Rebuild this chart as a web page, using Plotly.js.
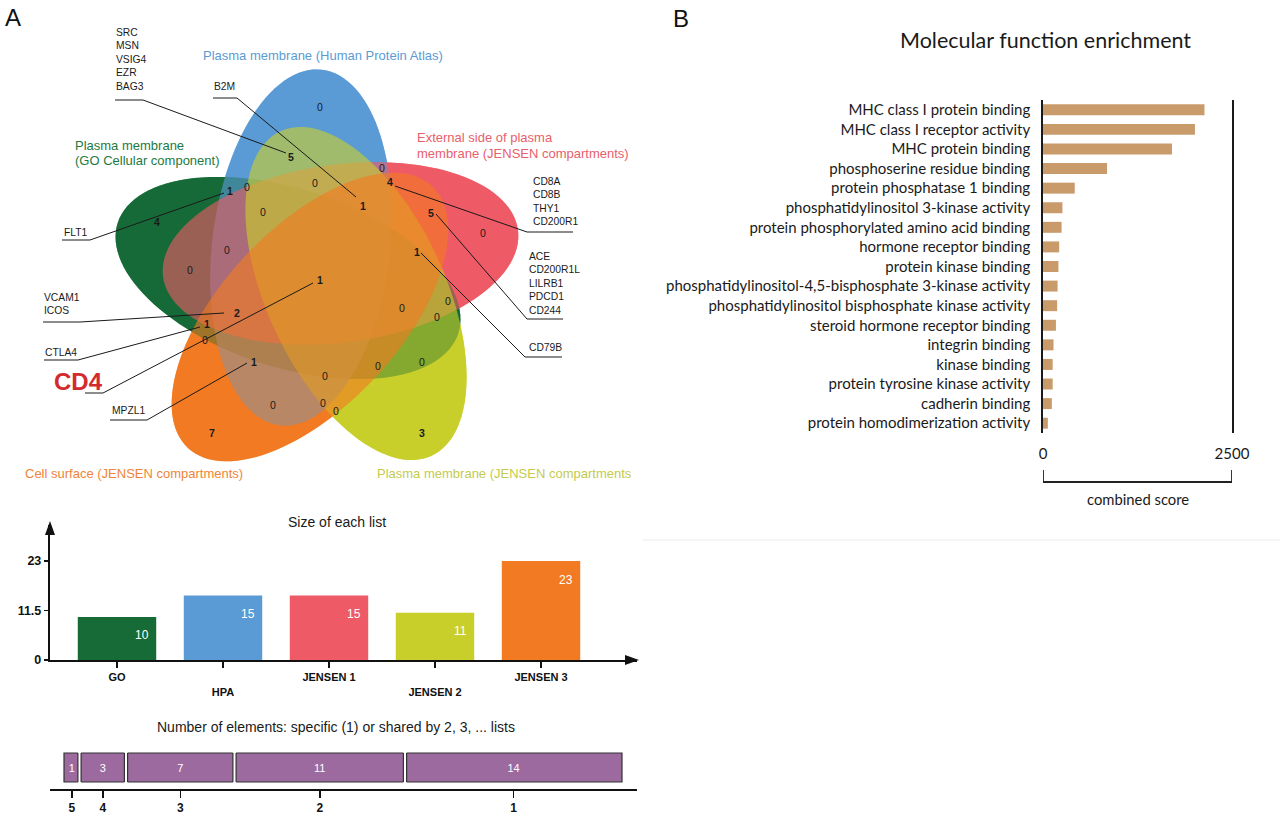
<!DOCTYPE html>
<html><head><meta charset="utf-8">
<script src="https://cdn.plot.ly/plotly-3.0.1.min.js"></script>
<style>html,body{margin:0;padding:0;background:#fff}#chart{width:1280px;height:818px}</style>
</head><body><div id="chart"></div>
<script>
// ---------------- DATA ----------------
const listNames = ['GO', 'HPA', 'JENSEN 1', 'JENSEN 2', 'JENSEN 3'];
const listSizes = [10, 15, 15, 11, 23];
const sizeTicks = [0, 11.5, 23];

const sharedDegree = ['5', '4', '3', '2', '1'];
const sharedCounts = [1, 3, 7, 11, 14];

const mfTerms = [
  'MHC class I protein binding',
  'MHC class I receptor activity',
  'MHC protein binding',
  'phosphoserine residue binding',
  'protein phosphatase 1 binding',
  'phosphatidylinositol 3-kinase activity',
  'protein phosphorylated amino acid binding',
  'hormone receptor binding',
  'protein kinase binding',
  'phosphatidylinositol-4,5-bisphosphate 3-kinase activity',
  'phosphatidylinositol bisphosphate kinase activity',
  'steroid hormone receptor binding',
  'integrin binding',
  'kinase binding',
  'protein tyrosine kinase activity',
  'cadherin binding',
  'protein homodimerization activity'
];
const mfScores = [2136, 2010, 1706, 847, 420, 257, 246, 214, 204, 193, 187, 171, 139, 128, 128, 117, 64];
const mfTicks = [0, 2500];

const vennSetNames = ['Plasma membrane (GO Cellular component)', 'Plasma membrane (Human Protein Atlas)',
  'External side of plasma membrane (JENSEN compartments)', 'Plasma membrane (JENSEN compartments',
  'Cell surface (JENSEN compartments)'];
const vennRegionCounts = [0,5,0,4,1,0,0,1,0,5,4,0,0,1,0,1,2,0,0,0,1,0,1,0,0,0,0,0,0,7,3];
const geneGroups = ['SRC<br>MSN<br>VSIG4<br>EZR<br>BAG3', 'B2M', 'FLT1', 'VCAM1<br>ICOS', 'CTLA4', 'MPZL1',
  'CD8A<br>CD8B<br>THY1<br>CD200R1', 'ACE<br>CD200R1L<br>LILRB1<br>PDCD1<br>CD244', 'CD79B'];
const highlightGene = 'CD4';

// ---------------- LAYOUT / STYLE ----------------
const W = 1280, H = 818;
const PX = x => x / W, PY = y => 1 - y / H;
const AR = 'Liberation Sans, Arial, sans-serif';
const MY = 'Lato, Open Sans, sans-serif';
const listColors = ['#176b37', '#5a9bd5', '#ee5a66', '#c9cf2a', '#f27a22'];
const setTextColors = ['#1d7a40', '#5b9bd5', '#e8606b', '#c4cb4c', '#ef8438'];

// ellipse geometry (pixel space): cx, cy, rotation
const ellA = 179, ellB = 89;
const ellGeom = [[288, 278, 18], [301, 247.5, 96.7], [340.5, 253.4, -7.5], [356, 293.5, 65], [310, 317, 133]];
function ellipsePath(cx, cy, a, b, deg) {
  const t = deg * Math.PI / 180, c = Math.cos(t), s = Math.sin(t);
  let p = '';
  for (let k = 0; k < 120; k++) {
    const ph = 2 * Math.PI * k / 120;
    const u = a * Math.cos(ph), v = b * Math.sin(ph);
    const x = cx + u * c - v * s, y = cy + u * s + v * c;
    p += (k === 0 ? 'M' : 'L') + x.toFixed(2) + ',' + y.toFixed(2);
  }
  return p + 'Z';
}
const vennRegionPos = [[320,107],[291,157],[382,168],[390,182],[230,191],[247,187],[315,183],[363,206],[263,212],[431,213],[157,222],[483,233],[227,250],[417,252],[190,270],[320,280],[237,313],[448,301],[402,308],[437,317],[207,324],[205,340],[254,362],[422,362],[325,376],[378,366],[273,405],[323,403],[336,411],[212,433],[422,433]];
// gene label layout: text x, first-line y, polyline points
const geneLayout = [
  {x:114, y:33, pts:[[115,100],[143,100],[286,153]]},
  {x:212, y:87, pts:[[213,98],[237,98],[356,197]]},
  {x:62, y:233, pts:[[62,240],[90,240],[224,193]]},
  {x:42, y:298, pts:[[43,322],[80,322],[224,313]]},
  {x:43, y:353, pts:[[44,360],[78,360],[200,327]]},
  {x:110, y:411, pts:[[110,420],[147,420],[247,363]]},
  {x:531, y:182, pts:[[573,232],[527,232],[395,186]]},
  {x:527, y:257, pts:[[563,319],[527,319],[436,214]]},
  {x:527, y:348, pts:[[562,357],[525,357],[421,253]]}
];

const shapes = [];
// opaque base (reverse order), then translucent layer (forward order)
for (let i = ellGeom.length - 1; i >= 0; i--) {
  const g = ellGeom[i];
  shapes.push({type:'path', xref:'x', yref:'y', layer:'below', path: ellipsePath(g[0], g[1], ellA, ellB, g[2]),
    fillcolor: listColors[i], line:{width:0}});
}
for (let i = 0; i < ellGeom.length; i++) {
  const g = ellGeom[i];
  shapes.push({type:'path', xref:'x', yref:'y', layer:'below', path: ellipsePath(g[0], g[1], ellA, ellB, g[2]),
    fillcolor: listColors[i], opacity: 0.62, line:{width:0}});
}
function polyline(pts, w) {
  return {type:'path', xref:'x', yref:'y', layer:'above',
    path: pts.map((p, k) => (k ? 'L' : 'M') + p[0] + ',' + p[1]).join(' '),
    line:{color:'#1a1a1a', width: w || 1}, fillcolor:'rgba(0,0,0,0)'};
}
geneLayout.forEach(g => shapes.push(polyline(g.pts)));
shapes.push(polyline([[85,393],[103,393],[313,283]]));
// arrows of the list-size chart
shapes.push({type:'path', xref:'paper', yref:'paper', path:
  `M${PX(50)},${PY(521)} L${PX(45)},${PY(535)} L${PX(55)},${PY(535)} Z`, fillcolor:'#111', line:{width:0}});
shapes.push({type:'path', xref:'paper', yref:'paper', path:
  `M${PX(639)},${PY(660)} L${PX(625)},${PY(655)} L${PX(625)},${PY(665)} Z`, fillcolor:'#111', line:{width:0}});
// bracket under panel B axis
shapes.push({type:'path', xref:'x4', yref:'paper', path:
  `M0,${PY(470)} L0,${PY(482)} L2500,${PY(482)} L2500,${PY(470)}`, line:{color:'#222', width:1.8}, fillcolor:'rgba(0,0,0,0)'});
// faint panel divider
shapes.push({type:'line', xref:'paper', yref:'paper', x0:PX(643), x1:1, y0:PY(540), y1:PY(540), line:{color:'#ececec', width:1}});

// cumulative base for shared-element strip
const sharedBase = [];
sharedCounts.reduce((acc, v) => { sharedBase.push(acc); return acc + v; }, 0);
const sharedMid = sharedCounts.map((v, i) => sharedBase[i] + v / 2);
// small white gaps between the boxes of the strip (at the cumulative boundaries)
sharedBase.slice(1).forEach(b => {
  shapes.push({type:'rect', xref:'x3', yref:'y3', xsizemode:'pixel', xanchor:b, x0:-1.6, x1:1.6,
    y0:-0.56, y1:0.56, fillcolor:'#ffffff', line:{width:0}, layer:'above'});
  [-1.6, 1.6].forEach(o => shapes.push({type:'line', xref:'x3', yref:'y3', xsizemode:'pixel', xanchor:b,
    x0:o, x1:o, y0:-0.5, y1:0.5, line:{color:'#333', width:1.2}, layer:'above'}));
});

const annotations = [];
function ann(x, y, text, o) {
  return Object.assign({xref:'x', yref:'y', x, y, text, showarrow:false, xanchor:'center', yanchor:'middle',
    font:{family:AR, size:11, color:'#1a1a1a'}}, o || {});
}
vennRegionCounts.forEach((c, i) => {
  const p = vennRegionPos[i];
  annotations.push(ann(p[0], p[1], c ? '<b>' + c + '</b>' : String(c), {font:{family:AR, size:10.5, color:'#1a1a1a'}}));
});
geneGroups.forEach((t, i) => {
  const g = geneLayout[i];
  annotations.push(ann(g.x, g.y - 8, t, {xanchor:'left', yanchor:'top', align:'left', font:{family:AR, size:10.3, color:'#1a1a1a'}}));
});
annotations.push(ann(78, 381, '<b>' + highlightGene + '</b>', {font:{family:AR, size:24, color:'#d42a2e'}}));
// set names
annotations.push(ann(323, 55, vennSetNames[1], {font:{family:AR, size:13, color:setTextColors[1]}}));
annotations.push(ann(73, 145, 'Plasma membrane', {xanchor:'left', font:{family:AR, size:13, color:setTextColors[0]}}));
annotations.push(ann(73, 160, '(GO Cellular component)', {xanchor:'left', font:{family:AR, size:13, color:setTextColors[0]}}));
annotations.push(ann(415, 137, 'External side of plasma', {xanchor:'left', font:{family:AR, size:13, color:setTextColors[2]}}));
annotations.push(ann(415, 153, 'membrane (JENSEN compartments)', {xanchor:'left', font:{family:AR, size:13, color:setTextColors[2]}}));
annotations.push(ann(23, 473, vennSetNames[4], {xanchor:'left', font:{family:AR, size:13, color:setTextColors[4]}}));
annotations.push(ann(375, 473, vennSetNames[3], {xanchor:'left', font:{family:AR, size:13, color:setTextColors[3]}}));
// panel letters
annotations.push(ann(13, 17, 'A', {font:{family:AR, size:24, color:'#111'}}));
annotations.push(ann(681, 18, 'B', {font:{family:AR, size:24, color:'#111'}}));
// chart titles
annotations.push(ann(337, 522, 'Size of each list', {font:{family:AR, size:14, color:'#1a1a1a'}}));
annotations.push(ann(336, 727, 'Number of elements: specific (1) or shared by 2, 3, ... lists', {font:{family:AR, size:14, color:'#1a1a1a'}}));
annotations.push(ann(1045, 40, 'Molecular function enrichment', {font:{family:MY, size:21.5, color:'#1a1a1a'}}));
annotations.push(ann(1138, 499, 'combined score', {font:{family:MY, size:14.8, color:'#1a1a1a'}}));
// value labels inside list-size bars
listSizes.forEach((v, i) => {
  annotations.push({xref:'x2', yref:'y2', x:listNames[i], y:v, text:String(v), showarrow:false,
    xshift:25, yshift:-18.5, font:{family:AR, size:12, color:'#ffffff'}});
});

const traces = [
  {type:'scatter', x:[], y:[], xaxis:'x', yaxis:'y', hoverinfo:'skip', showlegend:false},
  {type:'bar', x:listNames, y:listSizes, xaxis:'x2', yaxis:'y2', width:0.74,
    marker:{color:listColors}, showlegend:false, hoverinfo:'x+y'},
  {type:'bar', orientation:'h', x:sharedCounts, base:sharedBase, y:sharedCounts.map(() => 0), width:1,
    xaxis:'x3', yaxis:'y3', marker:{color:'#9c6a9f', line:{color:'#333', width:1.2}},
    text:sharedCounts.map(String), textposition:'inside', insidetextanchor:'middle', constraintext:'none',
    textfont:{family:AR, size:11, color:'#ffffff'}, showlegend:false},
  {type:'bar', orientation:'h', x:mfScores, y:mfTerms, xaxis:'x4', yaxis:'y4', width:0.56,
    marker:{color:'#c99b6b'}, showlegend:false}
];

const hidden = {visible:false, fixedrange:true};
const layout = {
  width: W, height: H, margin:{l:0, r:0, t:0, b:0}, paper_bgcolor:'#fff', plot_bgcolor:'rgba(0,0,0,0)',
  showlegend:false, shapes, annotations,
  xaxis: Object.assign({domain:[0, 1], range:[0, W]}, hidden),
  yaxis: Object.assign({domain:[0, 1], range:[H, 0]}, hidden),
  xaxis2: {domain:[PX(50), PX(637)], anchor:'y2', type:'category', categoryarray:listNames,
    range:[(50 - 117) / 106, (637 - 117) / 106], showline:true, linecolor:'#111', linewidth:2.2,
    ticks:'outside', ticklen:6, tickwidth:1.5, tickcolor:'#111', showgrid:false, zeroline:false,
    tickvals:listNames, ticktext:listNames.map((n, i) => i % 2 ? '<br>' + n : n),
    tickfont:{family:AR, size:11, color:'#111', weight:'bold'}},
  yaxis2: {domain:[PY(660), PY(525)], anchor:'x2', range:[0, (660 - 525) / 4.304], showline:true,
    linecolor:'#111', linewidth:2.2, ticks:'outside', ticklen:4, tickwidth:1.5, tickcolor:'#111',
    tickvals:sizeTicks, ticktext:sizeTicks.map(String), showgrid:false, zeroline:false,
    tickfont:{family:AR, size:12.5, color:'#111', weight:'bold'}},
  xaxis3: {domain:[PX(50), PX(637)], anchor:'y3', range:[(50 - 64) / 15.5, (637 - 64) / 15.5],
    showline:true, linecolor:'#111', linewidth:2, ticks:'outside', ticklen:7, tickwidth:1.5, tickcolor:'#111',
    tickvals:sharedMid, ticktext:sharedDegree, showgrid:false, zeroline:false,
    tickfont:{family:AR, size:12, color:'#111', weight:'bold'}},
  yaxis3: {domain:[PY(789), PY(745)], anchor:'x3', range:[-0.741, 0.776], visible:false},
  xaxis4: {domain:[PX(1043), PX(1232)], anchor:'y4', range:[0, 2500], tickvals:mfTicks,
    showline:false, showgrid:false, zeroline:false, ticks:'', ticklabelstandoff:10,
    tickfont:{family:MY, size:15, color:'#1a1a1a'}},
  yaxis4: {domain:[PY(433), PY(100)], anchor:'x4', type:'category', autorange:'reversed',
    showline:true, mirror:true, linecolor:'#1a1a1a', linewidth:1.8, ticks:'', ticklabelstandoff:8,
    showgrid:false, zeroline:false, tickfont:{family:MY, size:15, color:'#1a1a1a'}}
};
Plotly.newPlot('chart', traces, layout, {displayModeBar:false, staticPlot:true});
</script></body></html>
